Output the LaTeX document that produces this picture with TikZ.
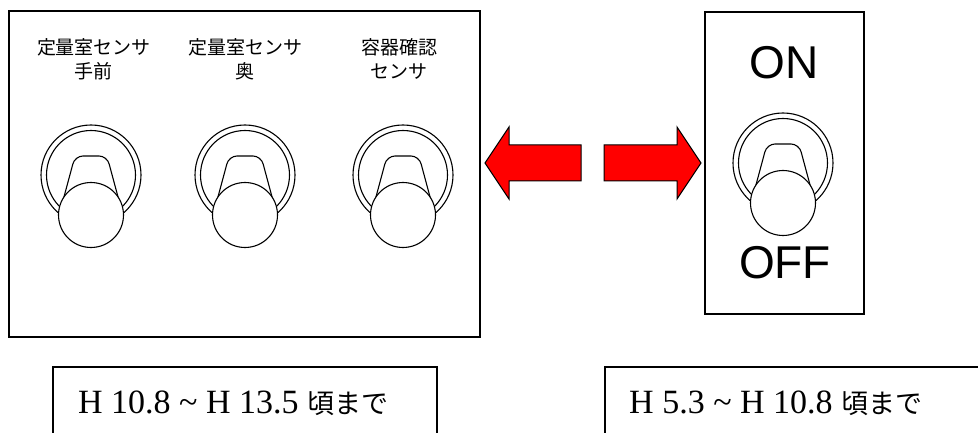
\documentclass[tikz,border=0pt]{standalone}
\usepackage{fontspec}
\setmainfont{Liberation Serif}
\newfontfamily\cjk{Noto Sans CJK JP}
\newfontfamily\onoff{Liberation Sans}
\usetikzlibrary{positioning}

% toggle switch drawn round a named centre
\newcommand{\toggleswitch}[1]{%
\begin{scope}[shift={(#1)}]
\draw[swline] (0,0) circle (50pt);
\draw[swline] (0,0) circle (44.5pt);
\draw[swline,rounded corners=8pt] (-30,33) -- (-16,-19) -- (16,-19) -- (30,33);
\draw[swline,fill=white] (0,40) circle (32.5pt);
\end{scope}}

\tikzset{
  panel/.style={line width=1.3pt,draw=black},
  swline/.style={line width=1.1pt,draw=black},
  bigarrow/.style={fill=red,draw=black,line width=1pt,line join=miter},
  sensorlabel/.style={align=center,inner sep=0pt,font=\cjk\fontsize{19}{24}\selectfont},
  onofflabel/.style={inner sep=0pt,font=\onoff\fontsize{46}{50}\selectfont},
  periodlabel/.style={inner sep=0pt,anchor=base west,font=\fontsize{34}{40}\selectfont}
}

\begin{document}
\begin{tikzpicture}[x=1pt,y=-1pt]
\useasboundingbox (0,0) rectangle (978,433);
\clip (0,0) rectangle (978,433);
%panel with three switches
\draw[panel] (9,11) rectangle (480,337);
\node[sensorlabel] (lab1) at (94,59) {定量室センサ\\手前};
\node[sensorlabel] (lab2) at (245,59) {定量室センサ\\奥};
\node[sensorlabel] (lab3) at (399,59) {容器確認\\センサ};
\coordinate (sw1) at (91,175);
\coordinate (sw2) at (245,175);
\coordinate (sw3) at (403,175);
\toggleswitch{sw1}
\toggleswitch{sw2}
\toggleswitch{sw3}
%single ON/OFF switch
\draw[panel] (705,12) rectangle (864,314);
\node[onofflabel] (on) at (784,63) {ON};
\node[onofflabel] (off) at (785,263) {OFF};
\coordinate (sw4) at (783,163);
\toggleswitch{sw4}
%red arrows between
\draw[bigarrow] (485,163) -- (509,127) -- (509,145) -- (581,145) -- (581,181) -- (509,181) -- (509,199) -- cycle;
\draw[bigarrow] (604,145) -- (677,145) -- (677,127) -- (701,163) -- (677,199) -- (677,181) -- (604,181) -- cycle;
%period boxes
\draw[panel] (53,367) rectangle (437,460);
\draw[panel] (605,367) rectangle (1000,460);
\node[periodlabel] (per1) at (78,413) {H 10.8 \textasciitilde\ H 13.5 {\cjk\fontsize{27}{30}\selectfont 頃まで}};
\node[periodlabel] (per2) at (629,413) {H 5.3 \textasciitilde\ H 10.8 {\cjk\fontsize{27}{30}\selectfont 頃まで}};
\end{tikzpicture}
\end{document}
